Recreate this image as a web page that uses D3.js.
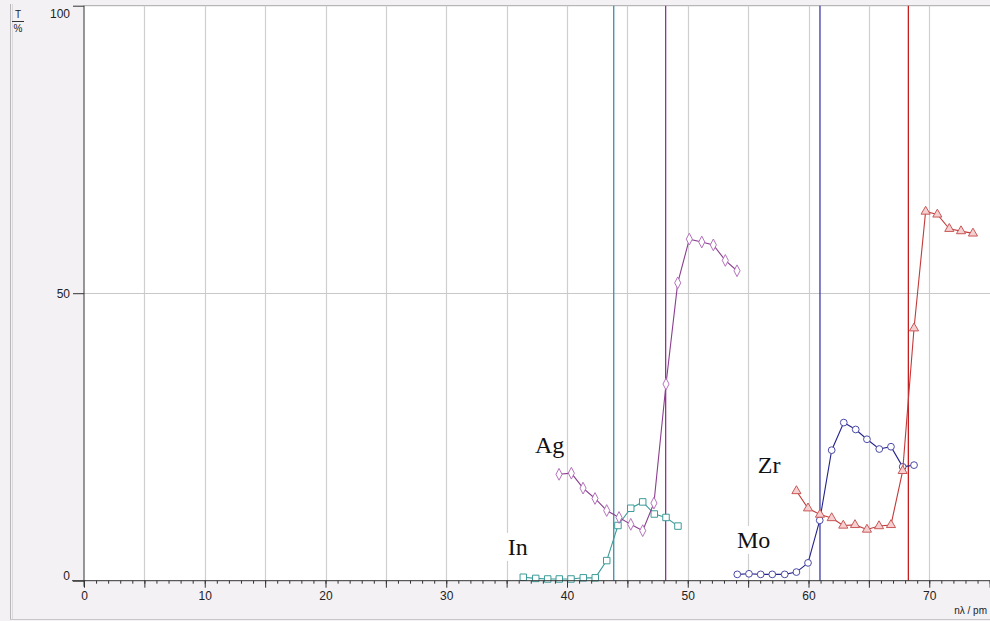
<!DOCTYPE html>
<html>
<head>
<meta charset="utf-8">
<script src="https://cdn.jsdelivr.net/npm/d3@7"></script>
<style>
  html, body { margin: 0; padding: 0; background: #f4f1f5; }
  svg { display: block; }
</style>
</head>
<body>
<svg id="chart" width="990" height="621"></svg>
<script>
// ---------- data ----------
const inX  = [36.38, 37.41, 38.40, 39.36, 40.33, 41.35, 42.34, 43.29, 44.22, 45.28, 46.27, 47.23, 48.20, 49.19];
const inY  = [0.6, 0.4, 0.3, 0.3, 0.3, 0.5, 0.5, 3.5, 9.6, 12.6, 13.7, 11.6, 11.0, 9.5];

const agX  = [39.34, 40.36, 41.33, 42.32, 43.29, 44.31, 45.28, 46.27, 47.20, 48.20, 49.17, 50.13, 51.16, 52.12, 53.11, 54.08];
const agY  = [18.5, 18.7, 16.1, 14.3, 12.2, 11.0, 9.8, 8.7, 13.5, 34.2, 51.8, 59.4, 58.9, 58.4, 55.7, 53.9];

const moX  = [54.10, 55.07, 56.04, 57.00, 58.03, 59.00, 59.96, 60.93, 61.92, 62.92, 63.91, 64.84, 65.86, 66.83, 67.80, 68.74];
const moY  = [1.1, 1.2, 1.1, 1.1, 1.1, 1.5, 3.1, 10.5, 22.7, 27.5, 26.3, 24.6, 22.9, 23.3, 19.8, 20.1];

const zrX  = [59.00, 59.96, 60.95, 61.92, 62.88, 63.85, 64.84, 65.84, 66.83, 67.80, 68.74, 69.70, 70.67, 71.66, 72.63, 73.62];
const zrY  = [15.6, 12.6, 11.5, 10.9, 9.6, 9.7, 8.9, 9.5, 9.7, 19.1, 43.9, 64.2, 63.7, 61.2, 60.8, 60.4];

const edgeNames = ["In", "Ag", "Mo", "Zr"];
const edgeX     = [43.87, 48.17, 60.95, 68.27];

const labelNames = ["In", "Ag", "Mo", "Zr"];
const labelX     = [35.1, 37.35, 54.08, 55.8];
const labelY     = [4.5, 22.2, 5.7, 18.8];

const yTicks = [0, 50, 100];
const xLabelTicks = [0, 10, 20, 30, 40, 50, 60, 70];
const xGrid = [5, 10, 15, 20, 25, 30, 35, 40, 45, 50, 55, 60, 65, 70];

// ---------- styles ----------
const colors = {
  In: { line: "#3b9c98", mark: "#3b9c98", fill: "#ffffff", edge: "#3a8fb0" },
  Ag: { line: "#8a3e8e", mark: "#b06ab8", fill: "#ffffff", edge: "#933590" },
  Mo: { line: "#23238a", mark: "#4a4aa6", fill: "#ffffff", edge: "#3b3ba6" },
  Zr: { line: "#c23a3a", mark: "#c85858", fill: "#f6d0d0", edge: "#c41e1e" }
};

const svg = d3.select("#chart");
const W = 990, H = 621;

const x = d3.scaleLinear().domain([0, 75]).range([84, 84 + 75 * 12.075]);
const y = d3.scaleLinear().domain([0, 100]).range([580.7, 5.7]);

// outer frame
svg.append("rect").attr("x", 0).attr("y", 0).attr("width", W).attr("height", H).attr("fill", "#f4f1f5");
svg.append("line").attr("x1", 10.5).attr("x2", 10.5).attr("y1", 4).attr("y2", 619).attr("stroke", "#b8b6ba");
svg.append("line").attr("x1", 12.5).attr("x2", 12.5).attr("y1", 4).attr("y2", 619).attr("stroke", "#dcdadd");
svg.append("line").attr("x1", 10).attr("x2", W).attr("y1", 619.5).attr("y2", 619.5).attr("stroke", "#c8c6ca");

// plot area
svg.append("rect")
  .attr("x", x(0)).attr("y", y(100))
  .attr("width", W - x(0)).attr("height", y(0) - y(100))
  .attr("fill", "#ffffff");

// top border
svg.append("line").attr("x1", x(0)).attr("x2", W).attr("y1", y(100)).attr("y2", y(100))
  .attr("stroke", "#a8a8a8");

// grid
const grid = svg.append("g");
grid.selectAll("line.gx").data(xGrid).join("line")
  .attr("x1", d => Math.round(x(d)) + 0.5).attr("x2", d => Math.round(x(d)) + 0.5)
  .attr("y1", y(100)).attr("y2", y(0))
  .attr("stroke", "#cfcfcf").attr("stroke-width", 1.2);
grid.append("line").attr("x1", x(0)).attr("x2", W).attr("y1", Math.round(y(50)) + 0.5).attr("y2", Math.round(y(50)) + 0.5)
  .attr("stroke", "#c8c8c8");

// labels with white boxes (drawn before data so data overlays)
const lab = svg.append("g");
labelNames.forEach((n, i) => {
  const tx = x(labelX[i]), ty = y(labelY[i]);
  lab.append("rect").attr("x", tx - 4).attr("y", ty - 22).attr("width", n === "Mo" ? 38 : 32).attr("height", 28).attr("fill", "#ffffff");
  lab.append("text").attr("x", tx).attr("y", ty)
    .attr("font-family", "'Liberation Serif', 'DejaVu Serif', serif")
    .attr("font-size", 24).attr("fill", "#111").text(n);
});

// edge lines
svg.append("g").selectAll("line").data(edgeX).join("line")
  .attr("x1", d => x(d)).attr("x2", d => x(d))
  .attr("y1", y(100)).attr("y2", y(0))
  .attr("stroke", (d, i) => colors[edgeNames[i]].edge).attr("stroke-width", 1.3);

// series
const series = [
  { name: "In", xs: inX, ys: inY, shape: "square" },
  { name: "Ag", xs: agX, ys: agY, shape: "diamond" },
  { name: "Mo", xs: moX, ys: moY, shape: "circle" },
  { name: "Zr", xs: zrX, ys: zrY, shape: "triangle" }
];
const line = d3.line().x(d => x(d[0])).y(d => y(d[1]));
const sym = {
  square: d3.symbol().type(d3.symbolSquare).size(42),
  diamond: d3.symbol().type(d3.symbolDiamond).size(40),
  circle: d3.symbol().type(d3.symbolCircle).size(36),
  triangle: d3.symbol().type(d3.symbolTriangle).size(36)
};
series.forEach(s => {
  const pts = s.xs.map((v, i) => [v, s.ys[i]]);
  const c = colors[s.name];
  const g = svg.append("g");
  g.append("path").datum(pts).attr("d", line).attr("fill", "none").attr("stroke", c.line).attr("stroke-width", 1.1);
  g.selectAll("path.m").data(pts).join("path").attr("class", "m")
    .attr("transform", d => `translate(${x(d[0])},${y(d[1])})${s.shape === "diamond" ? " scale(0.9,1)" : ""}`)
    .attr("d", sym[s.shape]())
    .attr("fill", c.fill).attr("stroke", c.mark).attr("stroke-width", 1);
});

// axes
const axisColor = "#333";
const yAxis = d3.axisLeft(y).tickValues(yTicks).tickSize(11).tickPadding(3);
const yg = svg.append("g").attr("transform", `translate(${x(0)},0)`).call(yAxis);
yg.select(".domain").attr("stroke", axisColor).attr("d", `M0,${y(100)}V${y(0) + 6}`);
yg.selectAll("line").attr("stroke", axisColor);
yg.selectAll("text").attr("font-family", "'Liberation Sans', Arial, sans-serif").attr("font-size", 12).attr("fill", "#222")
  .attr("dy", d => d === 100 ? "0.95em" : (d === 0 ? "-0.1em" : "0.32em"));

const xMinor = d3.axisBottom(x).tickValues(d3.range(0, 76)).tickSize(3).tickFormat("");
const xg1 = svg.append("g").attr("transform", `translate(0,${y(0)})`).call(xMinor);
xg1.select(".domain").attr("stroke", axisColor).attr("d", `M${x(0) - 12},0H${W}`);
xg1.selectAll("line").attr("stroke", axisColor);

const xMajor = d3.axisBottom(x).tickValues(d3.range(0, 76, 5)).tickSize(7).tickFormat("");
const xg2 = svg.append("g").attr("transform", `translate(0,${y(0)})`).call(xMajor);
xg2.select(".domain").remove();
xg2.selectAll("line").attr("stroke", axisColor);

const xLab = d3.axisBottom(x).tickValues(xLabelTicks).tickSize(7).tickPadding(4).tickFormat(d3.format("d"));
const xg3 = svg.append("g").attr("transform", `translate(0,${y(0)})`).call(xLab);
xg3.select(".domain").remove();
xg3.selectAll("line").remove();
xg3.selectAll("text").attr("font-family", "'Liberation Sans', Arial, sans-serif").attr("font-size", 12).attr("fill", "#222");

// axis titles
svg.append("text").attr("x", W - 3).attr("y", 614).attr("text-anchor", "end")
  .attr("font-family", "'Liberation Sans', Arial, sans-serif").attr("font-size", 10).attr("fill", "#222")
  .text("nλ / pm");
svg.append("text").attr("x", 18).attr("y", 18).attr("text-anchor", "middle")
  .attr("font-family", "'Liberation Sans', Arial, sans-serif").attr("font-size", 10).attr("fill", "#222").text("T");
svg.append("line").attr("x1", 12).attr("x2", 24).attr("y1", 21.5).attr("y2", 21.5).attr("stroke", "#333");
svg.append("text").attr("x", 18).attr("y", 32).attr("text-anchor", "middle")
  .attr("font-family", "'Liberation Sans', Arial, sans-serif").attr("font-size", 10).attr("fill", "#222").text("%");
</script>
</body>
</html>
